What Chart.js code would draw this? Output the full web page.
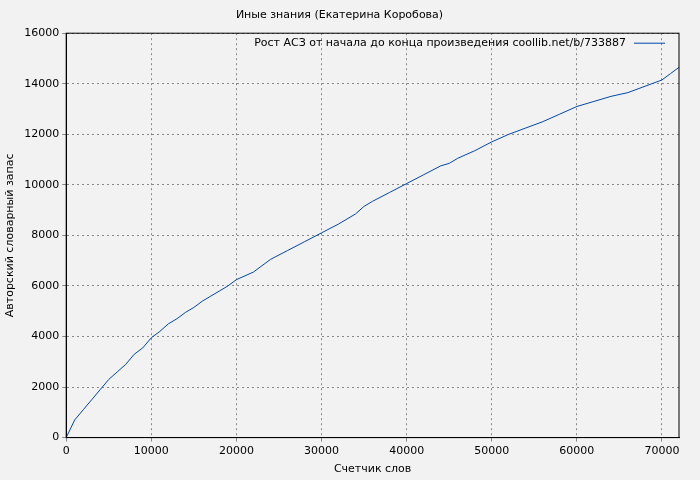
<!DOCTYPE html>
<html><head><meta charset="utf-8">
<script src="https://cdn.jsdelivr.net/npm/chart.js@4"></script>
<style>html,body{margin:0;background:#f2f2f2}#w{width:700px;height:480px}</style>
</head><body><div id="w"><canvas id="c"></canvas></div>
<script>
const wordsX = [0,1000,2000,3000,4000,5000,6000,7000,8000,9000,10000,11000,12000,13000,14000,15000,16000,17000,18000,19000,20000,22000,24000,26000,28000,30000,32000,34000,35000,36000,38000,40000,42000,44000,45000,46000,48000,50000,52000,54000,56000,58000,60000,62000,64000,66000,68000,70000,71000,72000];
const vocabY = [0,700,1100,1500,1900,2300,2600,2900,3300,3550,3950,4200,4500,4700,4950,5150,5400,5600,5800,6000,6250,6550,7050,7400,7750,8100,8450,8850,9150,9350,9700,10050,10400,10750,10850,11050,11350,11700,12000,12250,12500,12800,13100,13300,13500,13650,13900,14150,14400,14650];
const xTicks = [0,10000,20000,30000,40000,50000,60000,70000];
const yTicks = [0,2000,4000,6000,8000,10000,12000,14000,16000];
const seriesLabel = 'Рост АСЗ от начала до конца произведения coollib.net/b/733887';
const F = 'DejaVu Sans';
const legendPlugin = {id:'lg', afterDraw(ch){
  const ctx=ch.ctx, a=ch.chartArea;
  ctx.save(); ctx.font='11px "'+F+'"'; ctx.fillStyle='#000'; ctx.textAlign='right'; ctx.textBaseline='middle';
  const y=a.top+10; ctx.fillText(seriesLabel, a.right-53, y);
  ctx.strokeStyle='#0047ab'; ctx.lineWidth=1; ctx.beginPath(); ctx.moveTo(a.right-45,y); ctx.lineTo(a.right-14,y); ctx.stroke();
  ctx.strokeStyle='#000'; ctx.strokeRect(a.left,a.top,a.right-a.left,a.bottom-a.top);
  ctx.restore();
}};
const bgPlugin={id:'bg',beforeDraw(ch){const c=ch.ctx;c.save();c.fillStyle='#f2f2f2';c.fillRect(0,0,ch.width,ch.height);c.restore();}};
const fix=(arr)=>(s)=>{s.ticks=arr.map(v=>({value:v}));};
new Chart(document.getElementById('c'),{
  type:'line',
  data:{datasets:[{label:seriesLabel,data:wordsX.map((x,i)=>({x,y:vocabY[i]})),borderColor:'#0047ab',borderWidth:1,pointRadius:0,tension:0}]},
  options:{responsive:true,maintainAspectRatio:false,animation:false,
    layout:{padding:{right:21,top:0}},
    plugins:{legend:{display:false},tooltip:{enabled:false},
      title:{display:true,text:'Иные знания (Екатерина Коробова)',color:'#000',font:{family:F,size:11,weight:'normal'},padding:{top:9,bottom:11}}},
    scales:{
      x:{type:'linear',min:0,max:72000,afterBuildTicks:fix(xTicks),
        ticks:{color:'#000',font:{family:F,size:11},maxRotation:0,autoSkip:false,callback:v=>String(v)},
        grid:{color:'#888',tickLength:4,drawTicks:true},border:{color:'#000',dash:[2,3]},
        title:{display:true,text:'Счетчик слов',color:'#000',font:{family:F,size:11},padding:{top:2}}},
      y:{min:0,max:16000,afterBuildTicks:fix(yTicks),
        ticks:{color:'#000',font:{family:F,size:11},autoSkip:false,callback:v=>String(v)},
        grid:{color:'#888',tickLength:4},border:{color:'#000',dash:[2,3]},
        title:{display:true,text:'Авторский словарный запас',color:'#000',font:{family:F,size:11}}}
    }
  },
  plugins:[bgPlugin,legendPlugin]
});
</script></body></html>
